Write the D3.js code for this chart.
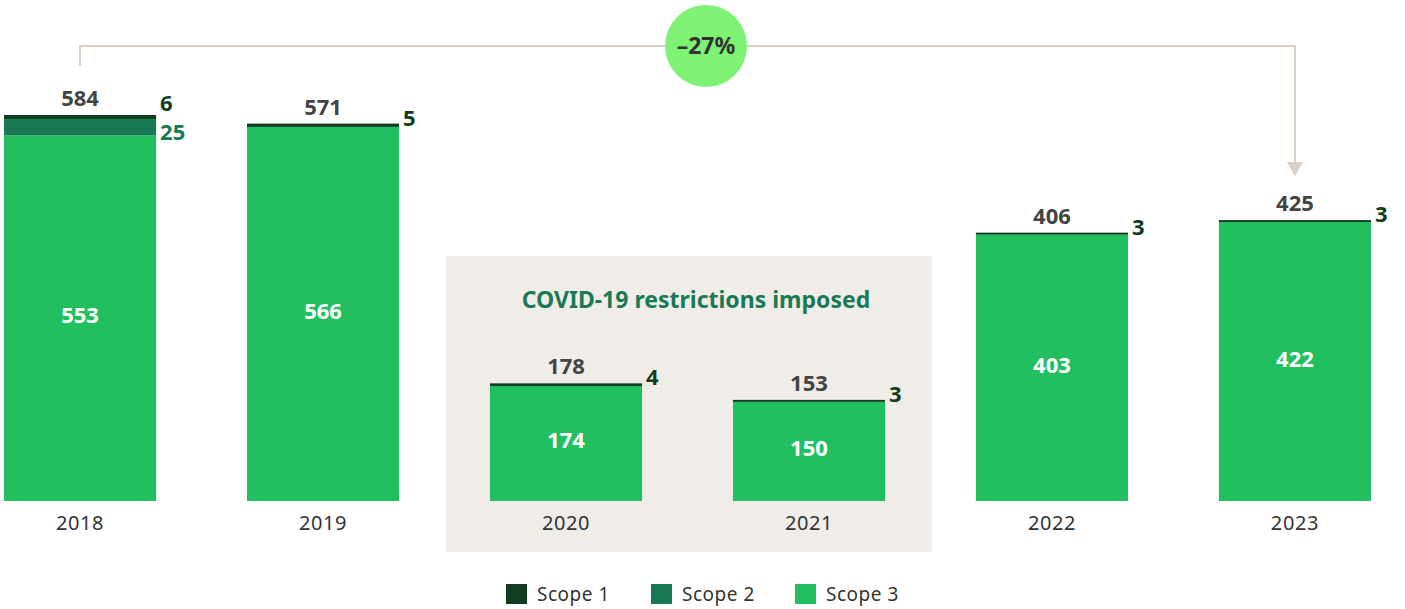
<!DOCTYPE html>
<html>
<head>
<meta charset="utf-8">
<script src="https://cdn.jsdelivr.net/npm/d3@7"></script>
<style>
  body { margin: 0; background: #fff; }
  svg { display: block; font-family: "Noto Sans", "Open Sans", sans-serif; }
</style>
</head>
<body>
<svg id="chart" width="1405" height="609"></svg>
<script>
var years = ["2018", "2019", "2020", "2021", "2022", "2023"];
var scope1 = [6, 5, 4, 3, 3, 3];
var scope2 = [25, 0, 0, 0, 0, 0];
var scope3 = [553, 566, 174, 150, 403, 422];
var totals = [584, 571, 178, 153, 406, 425];
var legendLabels = ["Scope 1", "Scope 2", "Scope 3"];
var colors = ["#0f3d1e", "#177a55", "#22bf61"];

var svg = d3.select("#chart");

var x = d3.scaleBand()
  .domain(years)
  .range([4, 1371])
  .paddingInner(0.374)
  .paddingOuter(0);

var y = d3.scaleLinear()
  .domain([0, 584])
  .range([501, 115]);

// covid background box
svg.append("rect")
  .attr("x", 446)
  .attr("y", 256)
  .attr("width", 486)
  .attr("height", 296)
  .style("fill", "#f0ece7");

svg.append("text")
  .attr("x", 696)
  .attr("y", 308)
  .attr("text-anchor", "middle")
  .style("font-size", "23px")
  .style("font-weight", "bold")
  .style("fill", "#1a7a55")
  .text("COVID-19 restrictions imposed");

// stacked data
var rows = years.map(function (yr, i) {
  return { year: yr, s1: scope1[i], s2: scope2[i], s3: scope3[i], total: totals[i] };
});
var stack = d3.stack().keys(["s3", "s2", "s1"]);
var series = stack(rows);
var keyColor = { s1: colors[0], s2: colors[1], s3: colors[2] };

svg.append("g")
  .selectAll("g")
  .data(series)
  .join("g")
    .style("fill", function (d) { return keyColor[d.key]; })
  .selectAll("rect")
  .data(function (d) { return d; })
  .join("rect")
    .attr("x", function (d) { return x(d.data.year); })
    .attr("y", function (d) { return y(d[1]); })
    .attr("width", x.bandwidth())
    .attr("height", function (d) { return y(d[0]) - y(d[1]); });

// scope 3 values inside bars
svg.append("g")
  .selectAll("text")
  .data(rows)
  .join("text")
    .attr("x", function (d) { return x(d.year) + x.bandwidth() / 2; })
    .attr("y", function (d) { return (y(0) + y(d.s3)) / 2 + 5; })
    .attr("text-anchor", "middle")
    .style("font-size", "22px")
    .style("font-weight", "bold")
    .style("fill", "#fff")
    .text(function (d) { return d.s3; });

// totals above bars
svg.append("g")
  .selectAll("text")
  .data(rows)
  .join("text")
    .attr("x", function (d) { return x(d.year) + x.bandwidth() / 2; })
    .attr("y", function (d) { return y(d.total) - 9; })
    .attr("text-anchor", "middle")
    .style("font-size", "22px")
    .style("font-weight", "bold")
    .style("fill", "#444")
    .text(function (d) { return d.total; });

// scope 1 labels on the right
svg.append("g")
  .selectAll("text")
  .data(rows)
  .join("text")
    .attr("x", function (d) { return x(d.year) + x.bandwidth() + 4; })
    .attr("y", function (d) { return y(d.total) + (d.s2 > 0 ? -4 : 2); })
    .style("font-size", "22px")
    .style("font-weight", "bold")
    .style("fill", colors[0])
    .text(function (d) { return d.s1; });

// scope 2 labels (only where non zero)
svg.append("g")
  .selectAll("text")
  .data(rows.filter(function (d) { return d.s2 > 0; }))
  .join("text")
    .attr("x", function (d) { return x(d.year) + x.bandwidth() + 4; })
    .attr("y", function (d) { return y(d.s3 + d.s2) + 21; })
    .style("font-size", "22px")
    .style("font-weight", "bold")
    .style("fill", colors[1])
    .text(function (d) { return d.s2; });

// x axis labels
svg.append("g")
  .selectAll("text")
  .data(years)
  .join("text")
    .attr("x", function (d) { return x(d) + x.bandwidth() / 2; })
    .attr("y", 530)
    .attr("text-anchor", "middle")
    .style("font-size", "20px")
    .style("letter-spacing", "0.6px")
    .style("fill", "#333")
    .text(function (d) { return d; });

// change bracket
var x0 = x(years[0]) + x.bandwidth() / 2;
var x1 = x(years[5]) + x.bandwidth() / 2;
svg.append("path")
  .attr("d", "M" + x0 + ",66 V46 H" + x1 + " V164")
  .style("fill", "none")
  .style("stroke", "#dccfc4")
  .style("stroke-width", 2);

svg.append("path")
  .attr("d", "M" + (x1 - 8) + ",162 L" + (x1 + 8) + ",162 L" + x1 + ",176 Z")
  .style("fill", "#dccfc4");

svg.append("circle")
  .attr("cx", 706)
  .attr("cy", 46)
  .attr("r", 41)
  .style("fill", "#7ef274");

svg.append("text")
  .attr("x", 706)
  .attr("y", 54)
  .attr("text-anchor", "middle")
  .style("font-size", "23px")
  .style("font-weight", "bold")
  .style("fill", "#333")
  .text("\u201327%");

// legend
var legendX = [506, 651, 795];
var legend = svg.append("g")
  .selectAll("g")
  .data(legendLabels)
  .join("g")
    .attr("transform", function (d, i) { return "translate(" + legendX[i] + ",584)"; });

legend.append("rect")
  .attr("width", 21)
  .attr("height", 20)
  .style("fill", function (d, i) { return colors[i]; });

legend.append("text")
  .attr("x", 31)
  .attr("y", 17)
  .style("font-size", "19px")
  .style("letter-spacing", "0.5px")
  .style("fill", "#333")
  .text(function (d) { return d; });
</script>
</body>
</html>
